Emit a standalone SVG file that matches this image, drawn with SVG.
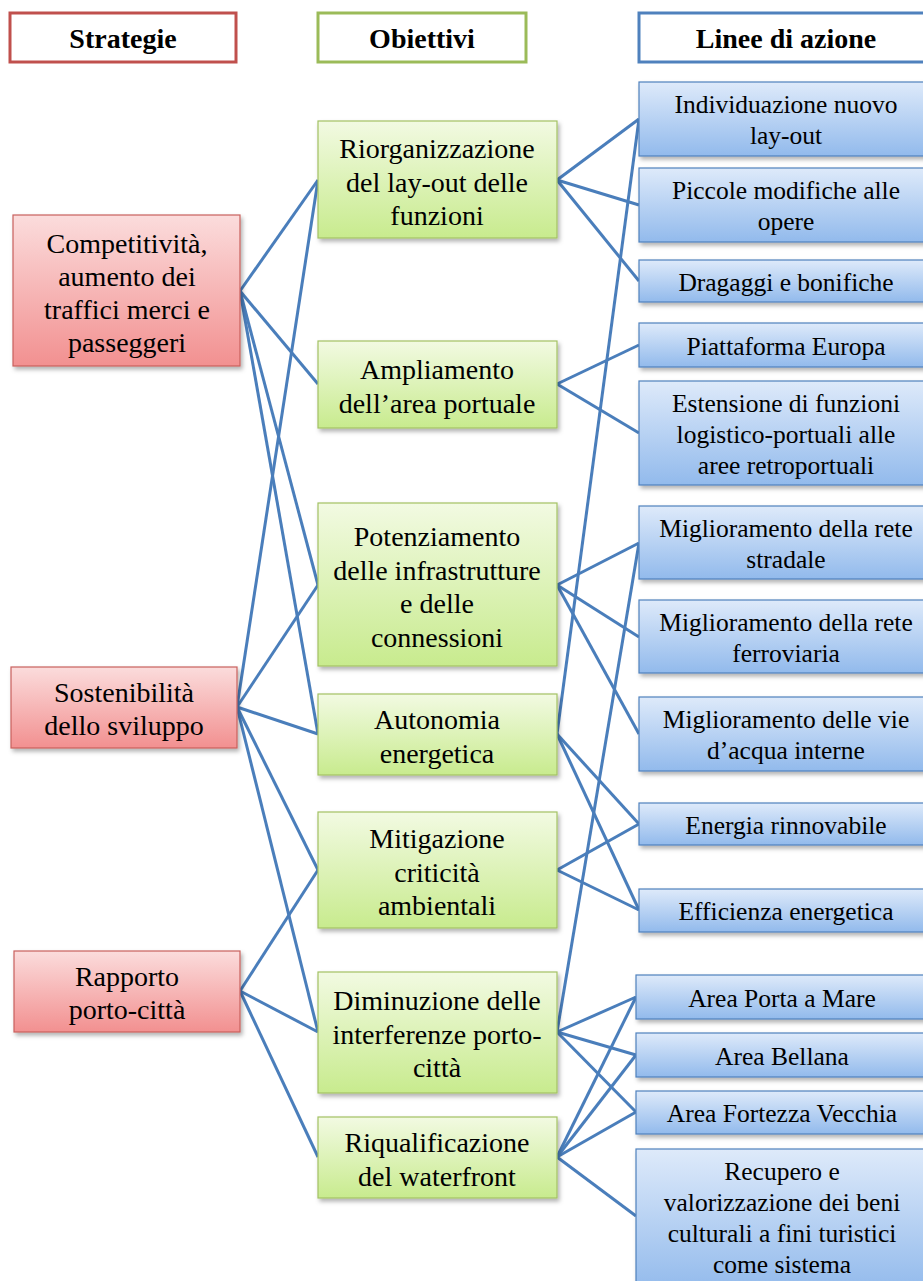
<svg xmlns="http://www.w3.org/2000/svg" width="923" height="1281" viewBox="0 0 923 1281">
<defs>
<linearGradient id="gr" x1="0" y1="0" x2="0" y2="1"><stop offset="0" stop-color="#FBDCDC"/><stop offset="1" stop-color="#F29090"/></linearGradient>
<linearGradient id="gg" x1="0" y1="0" x2="0" y2="1"><stop offset="0" stop-color="#F2FAE2"/><stop offset="1" stop-color="#C8EB8E"/></linearGradient>
<linearGradient id="gb" x1="0" y1="0" x2="0" y2="1"><stop offset="0" stop-color="#DEEAFA"/><stop offset="1" stop-color="#92BAEC"/></linearGradient>
<filter id="sh" x="-10%" y="-10%" width="130%" height="140%"><feDropShadow dx="2" dy="3" stdDeviation="2" flood-color="#000" flood-opacity="0.3"/></filter>
</defs>
<style>
.hd{fill:#fff;stroke-width:3}
.r{fill:url(#gr);stroke:#C9605D;stroke-width:1.2;filter:url(#sh)}
.g{fill:url(#gg);stroke:#A3C163;stroke-width:1.2;filter:url(#sh)}
.b{fill:url(#gb);stroke:#4F81BD;stroke-width:1.2;filter:url(#sh)}
text{font-family:"Liberation Serif","Times New Roman",serif;fill:#000;text-anchor:middle}
.ht{font-size:28px;font-weight:bold}
.t{font-size:28px}
.tb{font-size:25.5px}
#connectors line{stroke:#4A7EBB;stroke-width:3;fill:none}
</style>
<rect width="923" height="1281" fill="#fff"/>

<g id="connectors">
<line x1="240" y1="291" x2="318" y2="180"/>
<line x1="240" y1="291" x2="318" y2="384"/>
<line x1="240" y1="291" x2="318" y2="585"/>
<line x1="240" y1="291" x2="318" y2="734"/>
<line x1="237" y1="707" x2="318" y2="180"/>
<line x1="237" y1="707" x2="318" y2="585"/>
<line x1="237" y1="707" x2="318" y2="734"/>
<line x1="237" y1="707" x2="318" y2="870"/>
<line x1="237" y1="707" x2="318" y2="1032"/>
<line x1="240" y1="991" x2="318" y2="870"/>
<line x1="240" y1="991" x2="318" y2="1032"/>
<line x1="240" y1="991" x2="318" y2="1157"/>
<line x1="557" y1="180" x2="639" y2="119"/>
<line x1="557" y1="180" x2="639" y2="205"/>
<line x1="557" y1="180" x2="639" y2="281"/>
<line x1="557" y1="384" x2="639" y2="345"/>
<line x1="557" y1="384" x2="639" y2="433"/>
<line x1="557" y1="585" x2="639" y2="543"/>
<line x1="557" y1="585" x2="639" y2="637"/>
<line x1="557" y1="585" x2="639" y2="734"/>
<line x1="639" y1="119" x2="557" y2="734"/>
<line x1="557" y1="734" x2="639" y2="824"/>
<line x1="557" y1="734" x2="639" y2="910"/>
<line x1="557" y1="870" x2="639" y2="824"/>
<line x1="557" y1="870" x2="639" y2="910"/>
<line x1="639" y1="543" x2="557" y2="1032"/>
<line x1="557" y1="1032" x2="636" y2="997"/>
<line x1="557" y1="1032" x2="636" y2="1055"/>
<line x1="557" y1="1032" x2="636" y2="1112"/>
<line x1="557" y1="1157" x2="636" y2="997"/>
<line x1="557" y1="1157" x2="636" y2="1055"/>
<line x1="557" y1="1157" x2="636" y2="1112"/>
<line x1="557" y1="1157" x2="636" y2="1216"/>
</g>

<g id="h-strategie"><rect class="hd" x="10" y="13" width="226" height="49" stroke="#C0504D"/><text class="ht" x="123" y="48">Strategie</text></g>
<g id="h-obiettivi"><rect class="hd" x="318" y="13" width="208" height="49" stroke="#9BBB59"/><text class="ht" x="422" y="48">Obiettivi</text></g>
<g id="h-linee"><rect class="hd" x="639" y="13" width="300" height="49" stroke="#4F81BD"/><text class="ht" x="786" y="48">Linee di azione</text></g>

<g id="s-competitivita"><rect class="r" x="13" y="215" width="227" height="151"/>
<text class="t" x="127" y="253">Competitività,</text><text class="t" x="127" y="286">aumento dei</text><text class="t" x="127" y="319">traffici merci e</text><text class="t" x="127" y="352">passeggeri</text></g>
<g id="s-sostenibilita"><rect class="r" x="11" y="667" width="226" height="81"/>
<text class="t" x="124" y="702">Sostenibilità</text><text class="t" x="124" y="735">dello sviluppo</text></g>
<g id="s-rapporto"><rect class="r" x="14" y="951" width="226" height="81"/>
<text class="t" x="127" y="986">Rapporto</text><text class="t" x="127" y="1019">porto-città</text></g>

<g id="o-riorganizzazione"><rect class="g" x="318" y="121" width="239" height="117"/>
<text class="t" x="437" y="158">Riorganizzazione</text><text class="t" x="437" y="191.5">del lay-out delle</text><text class="t" x="437" y="225">funzioni</text></g>
<g id="o-ampliamento"><rect class="g" x="318" y="341" width="239" height="87"/>
<text class="t" x="437" y="379">Ampliamento</text><text class="t" x="437" y="412.5">dell’area portuale</text></g>
<g id="o-potenziamento"><rect class="g" x="318" y="503" width="239" height="163"/>
<text class="t" x="437" y="546">Potenziamento</text><text class="t" x="437" y="579.5">delle infrastrutture</text><text class="t" x="437" y="613">e delle</text><text class="t" x="437" y="646.5">connessioni</text></g>
<g id="o-autonomia"><rect class="g" x="318" y="694" width="239" height="81"/>
<text class="t" x="437" y="729">Autonomia</text><text class="t" x="437" y="762.5">energetica</text></g>
<g id="o-mitigazione"><rect class="g" x="318" y="812" width="239" height="116"/>
<text class="t" x="437" y="848">Mitigazione</text><text class="t" x="437" y="881.5">criticità</text><text class="t" x="437" y="915">ambientali</text></g>
<g id="o-diminuzione"><rect class="g" x="318" y="972" width="239" height="121"/>
<text class="t" x="437" y="1010">Diminuzione delle</text><text class="t" x="437" y="1043.5">interferenze porto-</text><text class="t" x="437" y="1077">città</text></g>
<g id="o-riqualificazione"><rect class="g" x="318" y="1117" width="239" height="81"/>
<text class="t" x="437" y="1152">Riqualificazione</text><text class="t" x="437" y="1185.5">del waterfront</text></g>

<g id="l-individuazione"><rect class="b" x="639" y="82" width="300" height="74"/>
<text class="tb" x="786" y="113">Individuazione nuovo</text><text class="tb" x="786" y="144">lay-out</text></g>
<g id="l-piccole"><rect class="b" x="639" y="168" width="300" height="74"/>
<text class="tb" x="786" y="199">Piccole modifiche alle</text><text class="tb" x="786" y="230">opere</text></g>
<g id="l-dragaggi"><rect class="b" x="639" y="260" width="300" height="42"/>
<text class="tb" x="786" y="291">Dragaggi e bonifiche</text></g>
<g id="l-piattaforma"><rect class="b" x="639" y="323" width="300" height="44"/>
<text class="tb" x="786" y="355">Piattaforma Europa</text></g>
<g id="l-estensione"><rect class="b" x="639" y="381" width="300" height="104"/>
<text class="tb" x="786" y="412">Estensione di funzioni</text><text class="tb" x="786" y="443">logistico-portuali alle</text><text class="tb" x="786" y="474">aree retroportuali</text></g>
<g id="l-stradale"><rect class="b" x="639" y="506" width="300" height="73"/>
<text class="tb" x="786" y="537">Miglioramento della rete</text><text class="tb" x="786" y="568">stradale</text></g>
<g id="l-ferroviaria"><rect class="b" x="639" y="600" width="300" height="73"/>
<text class="tb" x="786" y="631">Miglioramento della rete</text><text class="tb" x="786" y="662">ferroviaria</text></g>
<g id="l-vie"><rect class="b" x="639" y="697" width="300" height="74"/>
<text class="tb" x="786" y="728">Miglioramento delle vie</text><text class="tb" x="786" y="759">d’acqua interne</text></g>
<g id="l-energia"><rect class="b" x="639" y="803" width="300" height="42"/>
<text class="tb" x="786" y="834">Energia rinnovabile</text></g>
<g id="l-efficienza"><rect class="b" x="639" y="889" width="300" height="43"/>
<text class="tb" x="786" y="920">Efficienza energetica</text></g>
<g id="l-porta"><rect class="b" x="636" y="975" width="300" height="44"/>
<text class="tb" x="782" y="1007">Area Porta a Mare</text></g>
<g id="l-bellana"><rect class="b" x="636" y="1033" width="300" height="44"/>
<text class="tb" x="782" y="1065">Area Bellana</text></g>
<g id="l-fortezza"><rect class="b" x="636" y="1091" width="300" height="43"/>
<text class="tb" x="782" y="1122">Area Fortezza Vecchia</text></g>
<g id="l-recupero"><rect class="b" x="636" y="1149" width="300" height="142"/>
<text class="tb" x="782" y="1180">Recupero e</text><text class="tb" x="782" y="1211">valorizzazione dei beni</text><text class="tb" x="782" y="1242">culturali a fini turistici</text><text class="tb" x="782" y="1273">come sistema</text></g>
</svg>
